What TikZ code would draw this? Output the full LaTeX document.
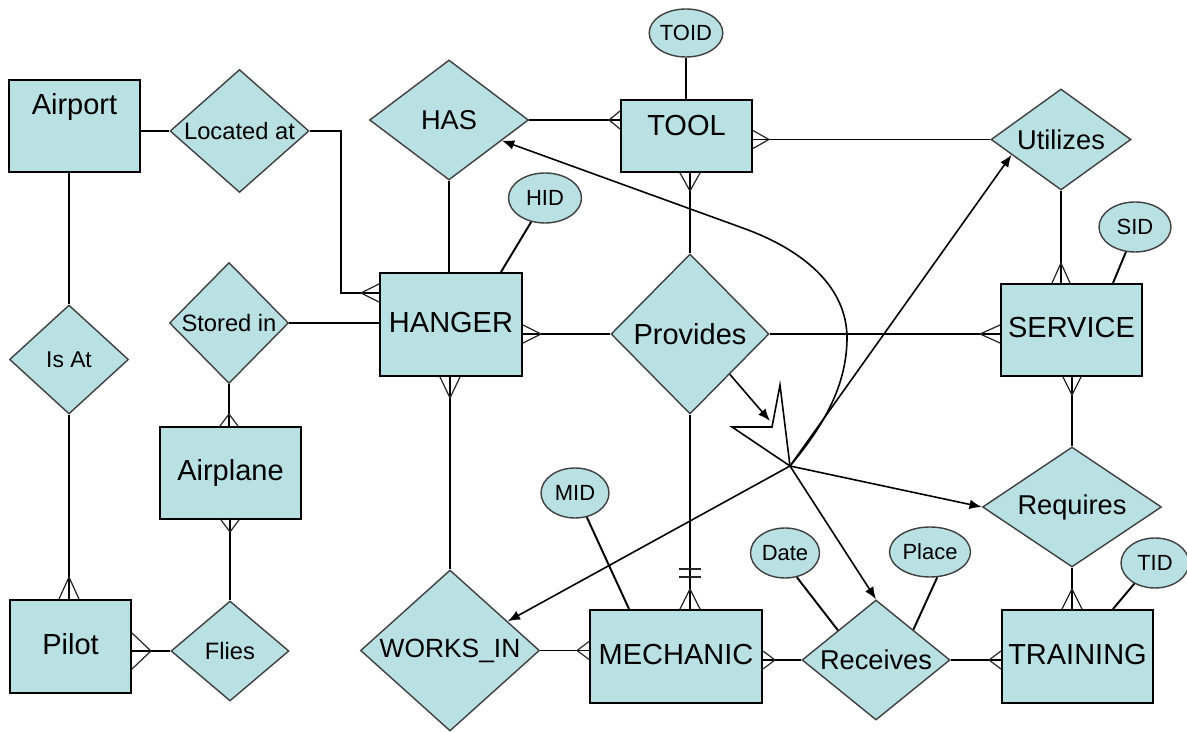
\documentclass[tikz,border=0pt]{standalone}
\usepackage{fontspec}
\setmainfont{Liberation Sans}
\usetikzlibrary{shapes.geometric,calc,arrows.meta}

\definecolor{erfill}{RGB}{185,224,227}
\tikzset{
  ent/.style n args={2}{rectangle, draw=black, line width=1.1pt, fill=erfill,
    inner sep=0pt, minimum width=#1*0.02cm, minimum height=#2*0.02cm,
    text height=12pt, text depth=3pt, font=\fontsize{16.5}{18}\selectfont},
  rel/.style n args={3}{diamond, draw=black!75, line width=0.8pt, fill=erfill,
    inner sep=0pt, aspect=#3, minimum width=#1*0.02cm, minimum height=#2*0.02cm,
    font=\fontsize{15.5}{17}\selectfont},
  att/.style n args={2}{ellipse, draw=black!75, line width=0.8pt, fill=erfill,
    inner sep=0pt, minimum width=#1*0.02cm, minimum height=#2*0.02cm,
    font=\fontsize{12.5}{14}\selectfont},
  small/.style={font=\fontsize{13.5}{15}\selectfont},
  link/.style={line width=1.1pt},
  foot/.style={line width=0.7pt, black!85},
  hubline/.style={line width=0.9pt},
  hubarrow/.style={line width=0.9pt, -{Latex[length=7pt,width=5.5pt]}}
}
% crow's foot: [spread]{point}{direction}{length}
\newcommand\crow[4][9]{\draw[foot, shift={(#2)}, rotate=#3] (0,#1) -- (#4,0) -- (0,-#1);}

\begin{document}
\begin{tikzpicture}[x=0.02cm, y=-0.02cm]
	\useasboundingbox (0,0) rectangle (1187,732);
	% entities
	\node[ent={131}{92}, text depth=25.6pt] (airport) at (74.5,126) {Airport};
	\node[ent={131}{72}, text depth=13pt] (tool) at (686.5,136) {TOOL};
	\node[ent={142}{103}] (hanger) at (451,324.5) {HANGER};
	\node[ent={141}{92}] (service) at (1071.5,330) {SERVICE};
	\node[ent={141}{92}] (airplane) at (230.5,473) {Airplane};
	\node[ent={121}{93}] (pilot) at (70.5,646.5) {Pilot};
	\node[ent={172}{93}] (mechanic) at (676,656.5) {MECHANIC};
	\node[ent={151}{93}] (training) at (1077.5,656.5) {TRAINING};
	% relationships
	\node[rel={139}{123}{1.13}, small] (locat) at (239.5,131) {Located at};
	\node[rel={159}{120}{1.325}] (has) at (449,120) {HAS};
	\node[rel={140}{101}{1.386}] (utilizes) at (1061,139.5) {Utilizes};
	\node[rel={119}{109}{1.092}, font=\fontsize{13}{15}\selectfont] (isat) at (69,359.5) {Is At};
	\node[rel={119}{121}{0.983}, small] (stored) at (229,323) {Stored in};
	\node[rel={158}{160}{0.988}, font=\fontsize{16.5}{18}\selectfont] (provides) at (690,334) {Provides};
	\node[rel={179}{120}{1.492}] (requires) at (1072,507) {Requires};
	\node[rel={179}{161}{1.112}, font=\fontsize{15}{17}\selectfont] (workin) at (450,650.5) {WORKS\_IN};
	\node[rel={118}{100}{1.18}, small] (flies) at (230,651) {Flies};
	\node[rel={148}{120}{1.233}] (receives) at (876,660) {Receives};
	% attributes
	\node[att={70}{48}] (toid) at (686,33) {TOID};
	\node[att={73}{50}] (hid) at (545,198) {HID};
	\node[att={72}{50}] (sid) at (1135,227) {SID};
	\node[att={68}{50}] (mid) at (575,493) {MID};
	\node[att={69}{50}] (date) at (785,553) {Date};
	\node[att={81}{50}] (place) at (930,552) {Place};
	\node[att={68}{50}] (tid) at (1155,563) {TID};

	\draw[link] (locat.west -| airport.east) -- (locat.west);
	\draw[link] (locat.east) -- ++(31,0) |- ($(hanger.north west)!.2!(hanger.south west)$) coordinate (hl);
	\crow{hl}{180}{18}
	\draw[link] (isat.north |- airport.south) -- (isat.north);
	\draw[link] (isat.south) -- (isat.south |- pilot.north) coordinate (pt);
	\crow[10]{pt}{90}{22}
	\draw[link] (stored.east) -- (stored.east -| hanger.west);
	\draw[link] (stored.south) -- (stored.south |- airplane.north) coordinate (at);
	\crow{at}{90}{12}
	\draw[link] (flies.north |- airplane.south) coordinate (ab) -- (flies.north);
	\crow{ab}{270}{12}
	\draw[link] (flies.west -| pilot.east) coordinate (pr) -- (flies.west);
	\crow[18]{pr}{0}{19}
	\draw[link] (has.south) -- (has.south |- hanger.north);
	\draw[link] (hid.240) -- ($(hanger.north east)+(-22,0)$);
	\draw[link] (has.east) -- (has.east -| tool.west) coordinate (tl);
	\crow{tl}{180}{11}
	\draw[link] (toid.south) -- (toid.south |- tool.north);
	\draw[link] (utilizes.west -| tool.east) coordinate (tr) -- (utilizes.west);
	\crow{tr}{0}{16}
	\draw[link] (provides.north |- tool.south) coordinate (tb) -- (provides.north);
	\crow[10]{tb}{270}{18}
	\draw[link] (provides.west -| hanger.east) coordinate (hr) -- (provides.west);
	\crow{hr}{0}{18}
	\draw[link] (provides.east) -- (provides.east -| service.west) coordinate (sl);
	\crow{sl}{180}{20}
	\draw[link] (utilizes.south) -- (utilizes.south |- service.north) coordinate (st);
	\crow{st}{90}{20}
	\draw[link] (sid.250) -- ($(service.north east)+(-30,0)$);
	\draw[link] (requires.north |- service.south) coordinate (sb) -- (requires.north);
	\crow{sb}{270}{18}
	\draw[link] (requires.south) -- (requires.south |- training.north) coordinate (trt);
	\crow[10]{trt}{90}{20}
	\draw[link] (tid.225) -- ($(training.north east)+(-41,0)$);
	\draw[link] (workin.north |- hanger.south) coordinate (hb) -- (workin.north);
	\crow[10]{hb}{270}{21}
	\draw[link] (workin.east) -- (workin.east -| mechanic.west) coordinate (ml);
	\crow{ml}{180}{12}
	\draw[link] (mid.296) -- ($(mechanic.north west)+(40,0)$);
	\draw[link] (provides.south) -- (provides.south |- mechanic.north) coordinate (mt);
	\draw[foot] ($(mt)+(-11,-40)$) -- ++(22,0) ($(mt)+(-11,-32)$) -- ++(22,0);
	\crow[10]{mt}{90}{20}
	\draw[link] (receives.west -| mechanic.east) coordinate (mr) -- (receives.west);
	\crow{mr}{0}{12}
	\draw[link] (receives.east) -- (receives.east -| training.west) coordinate (tnl);
	\crow{tnl}{180}{12}
	\draw[link] (date.296) -- ($(receives.west)!.49!(receives.north)$);
	\draw[link] (place.286) -- ($(receives.north)!.5!(receives.east)$);

	% the hub of arrows
	\coordinate (hub) at (790,466);
	\draw[hubarrow] (provides.south east) -- ($(hub)+(-20,-45)$);
	\draw[hubline] (hub) -- ++(-58,-39) -- ++(40,0) -- ++(8,-42) -- cycle;
	\draw[hubarrow] (hub) .. controls (820,430) and (846,390) .. (847,340)
		.. controls (848,285) and (800,248) .. (740,227)
		-- ($(has.east)!.34!(has.south)$);
	\draw[hubarrow] (hub) -- ($(utilizes.west)!.3!(utilizes.south)$);
	\draw[hubarrow] (hub) -- (requires.west);
	\draw[hubarrow] (hub) -- (receives.north);
	\draw[hubarrow] (hub) -- ($(workin.east)!.36!(workin.north)$);
\end{tikzpicture}
\end{document}
